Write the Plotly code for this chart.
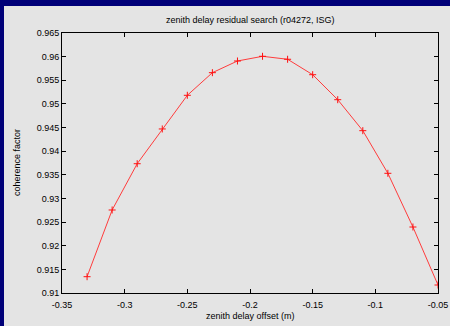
import plotly.graph_objects as go

# data
offset_m = [-0.33, -0.31, -0.29, -0.27, -0.25, -0.23, -0.21, -0.19,
            -0.17, -0.15, -0.13, -0.11, -0.09, -0.07, -0.05]
coherence = [0.91345, 0.92756, 0.93735, 0.9447, 0.95182, 0.95661, 0.95908, 0.96007,
             0.95944, 0.95618, 0.95089, 0.94434, 0.93532, 0.92396, 0.91169]

x_ticks = [-0.35, -0.3, -0.25, -0.2, -0.15, -0.1, -0.05]
x_tick_labels = ["-0.35", "-0.3", "-0.25", "-0.2", "-0.15", "-0.1", "-0.05"]
y_ticks = [0.91, 0.915, 0.92, 0.925, 0.93, 0.935, 0.94, 0.945, 0.95, 0.955, 0.96, 0.965]
y_tick_labels = ["0.91", "0.915", "0.92", "0.925", "0.93", "0.935", "0.94",
                 "0.945", "0.95", "0.955", "0.96", "0.965"]

W, H = 450, 326
L, R, T, B = 62, 12, 33, 33
PW, PH = W - L - R, H - T - B

def px_x(p):
    return (p - L) / PW

def px_y(p):
    return (H - B - p) / PH

FONT = "Liberation Sans, Arial, sans-serif"
GRAY = "#e4e4e4"
NAVY = "#000078"

fig = go.Figure()
fig.add_trace(go.Scatter(
    x=offset_m, y=coherence, mode="lines+markers",
    line=dict(color="#ff3c3c", width=1),
    marker=dict(symbol="cross-thin", size=5, line=dict(color="#ff1010", width=1), color="#ff1010"),
    showlegend=False, hoverinfo="skip",
))

axis_common = dict(
    showgrid=False, zeroline=False, showline=True, linecolor="#000000", linewidth=1,
    mirror="ticks", ticks="inside", ticklen=4, tickcolor="#000000", tickwidth=1,
    tickfont=dict(family=FONT, size=9, color="#000000"), automargin=False,
)

fig.update_layout(
    width=W, height=H, autosize=False,
    margin=dict(l=L, r=R, t=T, b=B, pad=0, autoexpand=False),
    paper_bgcolor=GRAY,
    plot_bgcolor=GRAY,
    font=dict(family=FONT, size=9, color="#000000"),
    xaxis=dict(range=[-0.35, -0.05], tickvals=x_ticks, ticktext=x_tick_labels,
               ticklabelstandoff=3, **axis_common),
    yaxis=dict(range=[0.91, 0.965], tickvals=y_ticks, ticktext=y_tick_labels, **axis_common),
    shapes=[
        dict(type="rect", xref="paper", yref="paper", layer="below",
             x0=px_x(-2), x1=px_x(4), y0=px_y(-2), y1=px_y(H + 2),
             fillcolor=NAVY, line=dict(width=0)),
        dict(type="rect", xref="paper", yref="paper", layer="below",
             x0=px_x(-2), x1=px_x(W + 2), y0=px_y(-2), y1=px_y(6),
             fillcolor=NAVY, line=dict(width=0)),
    ],
    annotations=[
        dict(text="zenith delay residual search (r04272, ISG)", xref="paper", yref="paper",
             x=0.5, y=px_y(20), xanchor="center", yanchor="middle", showarrow=False,
             font=dict(family=FONT, size=9, color="#000000")),
        dict(text="zenith delay offset (m)", xref="paper", yref="paper",
             x=0.5, y=px_y(316), xanchor="center", yanchor="middle", showarrow=False,
             font=dict(family=FONT, size=9, color="#000000")),
        dict(text="coherence factor", xref="paper", yref="paper", textangle=-90,
             x=px_x(17), y=px_y(163), xanchor="center", yanchor="middle", showarrow=False,
             font=dict(family=FONT, size=9, color="#000000")),
    ],
)

fig.write_html(
    "out.html",
    config={"displayModeBar": False, "responsive": False},
    post_script=(
        "var de=document.documentElement;de.style.overflow='hidden';de.style.margin='0';"
        "de.style.padding='0';de.style.background='%s';"
        "document.body.style.margin='0';document.body.style.padding='0';"
        "document.body.style.overflow='hidden';document.body.style.background='%s';"
        "Plotly.relayout('{plot_id}', {width: %d, height: %d});" % (GRAY, GRAY, W, H)
    ),
)
